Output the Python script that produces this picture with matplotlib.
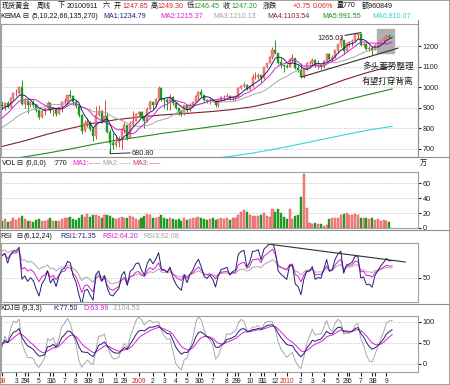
import matplotlib
matplotlib.use('Agg')
import matplotlib.pyplot as plt
from matplotlib.lines import Line2D
from matplotlib.patches import Rectangle
import numpy as np
import pandas as pd

plt.rcParams['font.family'] = ['Liberation Sans', 'Noto Sans CJK SC', 'DejaVu Sans']

# 周线数据 (2008-02 ~ 2010-09-11)
pre_close = [700, 714, 730, 743, 738, 753, 766, 785, 806, 834, 787, 822, 783, 803,
             793, 811, 836, 863, 897, 881, 913]

close = [
    909, 923, 906, 948, 972, 972, 1001, 920, 933, 913,
    925, 915, 887, 855, 885, 897, 925, 887, 900, 872,
    903, 927, 932, 960, 957, 928, 911, 864, 787, 828,
    833, 797, 762, 864, 884, 834, 861, 784, 730, 720,
    735, 745, 797, 815, 752, 823, 838, 872, 878, 855,
    838, 895, 928, 913, 941, 995, 941, 939, 930, 953,
    922, 898, 882, 871, 914, 888, 915, 930, 958, 979,
    962, 937, 932, 940, 931, 912, 937, 952, 954, 957,
    946, 952, 954, 995, 1007, 1012, 992, 1004, 1048, 1050,
    1057, 1045, 1096, 1118, 1146, 1182, 1164, 1120, 1110, 1104,
    1097, 1138, 1140, 1092, 1083, 1050, 1090, 1118, 1119, 1134,
    1102, 1107, 1105, 1126, 1161, 1137, 1142, 1180, 1209, 1228,
    1177, 1213, 1218, 1226, 1256, 1256, 1207, 1210, 1188, 1189,
    1181, 1204, 1215, 1227, 1237, 1249, 1246, 1247.20]

high = [
    933, 927, 932, 953, 975, 990, 1004, 1033, 948, 937,
    935, 942, 916, 887, 889, 898, 935, 928, 905, 894,
    906, 935, 948, 964, 988, 963, 937, 914, 868, 840,
    849, 834, 805, 911, 914, 888, 936, 880, 799, 777,
    766, 763, 802, 829, 812, 835, 884, 876, 885, 883,
    862, 903, 937, 929, 949, 1007, 1001, 947, 947, 966,
    958, 928, 900, 889, 916, 914, 922, 932, 960, 980,
    989, 963, 942, 947, 945, 932, 942, 956, 960, 972,
    962, 953, 960, 999, 1011, 1025, 1015, 1008, 1062, 1072,
    1070, 1057, 1100, 1120, 1152, 1195, 1227, 1168, 1140, 1110,
    1115, 1141, 1161, 1142, 1110, 1118, 1091, 1124, 1128, 1141,
    1137, 1130, 1110, 1131, 1164, 1167, 1156, 1180, 1210, 1249,
    1231, 1216, 1223, 1232, 1261, 1265.03, 1262, 1213, 1213, 1199,
    1200, 1212, 1222, 1230, 1241, 1255, 1258, 1249.30]

low = [
    895, 888, 899, 896, 938, 959, 966, 916, 900, 875,
    906, 906, 878, 845, 852, 866, 893, 877, 862, 862,
    870, 882, 920, 914, 947, 913, 898, 857, 775, 782,
    808, 788, 740, 747, 860, 828, 834, 776, 680.80, 700,
    708, 708, 702, 780, 742, 752, 814, 842, 862, 844,
    804, 832, 887, 894, 906, 940, 933, 900, 889, 891,
    915, 894, 865, 861, 866, 880, 885, 906, 926, 939,
    952, 928, 923, 920, 926, 905, 906, 931, 931, 951,
    938, 932, 940, 948, 992, 1001, 988, 985, 1003, 1040,
    1042, 1027, 1042, 1094, 1116, 1137, 1160, 1115, 1094, 1076,
    1091, 1096, 1122, 1088, 1073, 1045, 1045, 1085, 1096, 1108,
    1098, 1087, 1089, 1092, 1125, 1130, 1128, 1142, 1165, 1197,
    1161, 1170, 1196, 1200, 1221, 1235, 1200, 1195, 1182, 1178,
    1155, 1179, 1192, 1209, 1213, 1232, 1240, 1246.45]

last_open = 1247.85

# 成交量 (万)
vol = [
    9, 12, 8, 10, 13, 11, 14, 16, 12, 9, 10, 8, 11, 12, 10, 9, 11, 13, 10, 9,
    10, 12, 13, 14, 15, 12, 11, 14, 17, 15, 19, 15, 17, 18, 16, 14, 18, 17, 16, 14,
    12, 13, 15, 14, 13, 16, 15, 12, 11, 14, 16, 19, 17, 14, 13, 15, 18, 14, 12, 13,
    12, 11, 12, 10, 13, 11, 12, 13, 14, 15, 13, 12, 11, 12, 13, 11, 12, 14, 12, 13,
    11, 14, 13, 18, 22, 24, 21, 17, 16, 16, 16, 17, 20, 16, 15, 25, 22, 25, 20, 15,
    12, 25, 12, 16, 18, 42, 72, 27, 7, 6, 7, 6, 6, 3, 4, 12, 13, 14, 13, 18,
    19, 20, 17, 18, 19, 18, 14, 13, 14, 12, 13, 11, 12, 10, 11, 9, 8, 0.08]

# 长周期均线 (MA66 / MA135 / MA270) 读图取样
ma_idx = [0, 8, 16, 24, 32, 40, 48, 56, 64, 72, 80, 88, 96, 104, 112, 120, 128, 137]
ma4 = [712, 740, 772, 800, 825, 842, 855, 865, 872, 880, 890, 905, 930, 960, 995, 1035, 1070, 1103.54]
ma5 = [645, 662, 680, 700, 722, 742, 758, 775, 790, 805, 820, 838, 858, 880, 905, 935, 962, 991.55]
ma6 = [525, 538, 552, 566, 580, 594, 607, 620, 635, 650, 664, 680, 700, 722, 745, 768, 790, 810.07]

# 时间轴标签
tick_idx = [0, 5, 8, 9, 13, 17, 18, 22, 26, 30, 31, 35, 40, 43, 48, 53, 57, 61, 65, 69,
            70, 74, 79, 82, 83, 87, 91, 92, 96, 100, 105, 109, 113, 118, 121, 122, 126,
            130, 131, 135]
tick_txt = ['08', '3', '29', '4', '5', '31', '6', '7', '8', '30', '9', '10', '11', '29',
            '2009', '2', '3', '4', '5', '30', '6', '7', '8', '29', '9', '10', '31', '11',
            '12', '2010', '2', '3', '4', '5', '29', '6', '7', '31', '8', '9']

# ---- 指标计算 ----
close = np.array(close, float)
high = np.array(high, float)
low = np.array(low, float)
n = len(close)
x = np.arange(n)
open_ = np.r_[pre_close[-1], close[:-1]]
open_[-1] = last_open
high = np.maximum(high, np.maximum(open_, close))
low = np.minimum(low, np.minimum(open_, close))

allc = pd.Series(np.r_[pre_close, close])
npre = len(pre_close)
ma1 = allc.rolling(5, min_periods=1).mean().values[npre:]
ma2 = allc.rolling(10, min_periods=1).mean().values[npre:]
ma3 = allc.rolling(22, min_periods=1).mean().values[npre:]


def sma(s, nn, m=1):
    out = []
    prev = s[0]
    for v in s:
        prev = (m * v + (nn - m) * prev) / nn
        out.append(prev)
    return np.array(out)


diff = np.diff(allc.values)
up_move = np.maximum(diff, 0)
abs_move = np.abs(diff)


def rsi(nn):
    r = sma(up_move, nn) / sma(abs_move, nn) * 100
    return r[npre - 1:]


rsi1, rsi2, rsi3 = rsi(6), rsi(12), rsi(24)

llv = pd.Series(low).rolling(9, min_periods=1).min().values
hhv = pd.Series(high).rolling(9, min_periods=1).max().values
rsv = (close - llv) / (hhv - llv) * 100
k = [50.0]
for v in rsv:
    k.append((v + 2 * k[-1]) / 3)
k = np.array(k[1:])
d = [50.0]
for v in k:
    d.append((v + 2 * d[-1]) / 3)
d = np.array(d[1:])
j = 3 * k - 2 * d

# ---- 画布 ----
W, H = 450, 385
fig = plt.figure(figsize=(4.5, 3.85), dpi=100)


def px_axes(x0, y0, x1, y1):
    return fig.add_axes([x0 / W, 1 - y1 / H, (x1 - x0) / W, (y1 - y0) / H])


ax = px_axes(1, 24, 418, 157)
axv = px_axes(1, 172, 418, 228)
axr = px_axes(1, 243, 418, 302)
axk = px_axes(1, 316, 418, 372)

grid_kw = dict(color='#a8a8a8', lw=0.6, linestyle=(0, (1, 2)))
for a in (ax, axv, axr, axk):
    a.set_xlim(-0.35, 146.1)
    for sp in a.spines.values():
        sp.set_color('#a0a0a0')
        sp.set_linewidth(0.8)
    a.tick_params(axis='y', left=False, labelleft=False, right=True, labelright=True,
                  length=2, pad=1.2, labelsize=5.2, colors='#202020')
    a.tick_params(axis='x', bottom=False, labelbottom=False)
    a.grid(axis='y', **grid_kw)
    a.set_axisbelow(True)

up = close >= open_
body_col = np.where(up, '#f08a8a', '#1f9a1f')
edge_col = np.where(up, '#e04848', '#1f9a1f')

# 主图
ax.add_patch(Rectangle((131.7, 1166), 5.9, 116, color='#b0b0b0', zorder=0.5))
ax.vlines(x, low, high, colors=edge_col, lw=0.7, zorder=2)
body_lo = np.minimum(open_, close)
body_h = np.maximum(np.abs(close - open_), 1.0)
ax.bar(x, body_h, bottom=body_lo, width=0.72, color=body_col, edgecolor=edge_col,
       lw=0.3, zorder=3)
ax.plot(ma_idx, ma6, color='#30d8d8', lw=0.8, zorder=1)
ax.plot(ma_idx, ma5, color='#208a20', lw=0.8, zorder=1)
ax.plot(ma_idx, ma4, color='#80202c', lw=0.8, zorder=1)
ax.plot(x, ma3, color='#a8a8a8', lw=0.7, zorder=4)
ax.plot(x, ma2, color='#d820d8', lw=0.7, zorder=4)
ax.plot(x, ma1, color='#202070', lw=0.7, zorder=4)
ax.set_ylim(661, 1307)
ax.set_yticks([700, 800, 900, 1000, 1100, 1200])

# 标注
ax.plot([105.3, 139.1], [1050, 1190], color='#303030', lw=0.8, zorder=5)
ax.plot([120.5, 126.0], [1252, 1265], color='#303030', lw=0.8, zorder=5)
ax.text(110.7, 1237, '1265.03', fontsize=5.2, color='#202020', va='center', zorder=6)
ax.plot([38, 38, 45.0], [690, 677, 681], color='#303030', lw=0.7, zorder=5)
ax.text(45.7, 680, '680.80', fontsize=5.2, color='#202020', va='center', zorder=6)
ax.text(126.5, 1103, '多头蓄势整理', fontsize=6.2, color='#202020', va='center', zorder=6)
ax.text(126.5, 1030, '有望打穿背离', fontsize=6.2, color='#202020', va='center', zorder=6)

# 成交量
axv.bar(x, vol, width=0.72, color=body_col, edgecolor=edge_col, lw=0.3)
axv.set_ylim(0, 75)
axv.set_yticks([0, 20, 40, 60])

# RSI
axr.plot(x, rsi3, color='#a8a8a8', lw=0.7)
axr.plot(x, rsi2, color='#d820d8', lw=0.7)
axr.plot(x, rsi1, color='#202070', lw=0.7)
axr.plot([93.4, 141.6], [88.8, 68.1], color='#303030', lw=0.8)
axr.set_ylim(22, 90)
axr.set_yticks([50])

# KDJ
axk.plot(x, j, color='#a8a8a8', lw=0.7)
axk.plot(x, d, color='#d820d8', lw=0.7)
axk.plot(x, k, color='#202070', lw=0.7)
axk.set_ylim(-19, 114)
axk.set_yticks([0, 50, 100])
axk.set_xticks(tick_idx)
axk.set_xticklabels(tick_txt)
axk.tick_params(axis='x', bottom=True, labelbottom=True, length=3, pad=1,
                labelsize=4.8, colors='#202020')
for lab in axk.get_xticklabels():
    if lab.get_text() in ('08', '2009', '2010'):
        lab.set_color('#e02020')


# ---- 标题文字 ----
def put(xp, yp, s, color='#101010', size=5.1):
    fig.text(xp / W, 1 - yp / H, s, color=color, fontsize=size, va='center', ha='left')


RED, GRN = '#e02020', '#1f9a1f'
put(2, 6, '现货黄金')
put(37, 6, '周线')
put(58, 6, '下')
put(67, 6, '20100911')
put(103, 6, '六')
put(114, 6, '开')
put(122, 6, '1247.85', RED)
put(151, 6, '高')
put(158, 6, '1249.30', RED)
put(187, 6, '低')
put(194, 6, '1246.45', GRN)
put(223, 6, '收')
put(231, 6, '1247.20', GRN)
put(263, 6, '涨跌')
put(293, 6, '+0.75', RED)
put(313, 6, '0.06%', RED)
put(337, 6, '量770')
put(362, 6, '额960849')

put(0, 17, 'K')
put(4, 17, '⊟MA')
put(22, 17, '⊟')
put(31, 17, '(5,10,22,66,135,270)')
put(103, 17, 'MA1:1234.79', '#202070')
put(160, 17, 'MA2:1215.37', '#d820d8')
put(213, 17, 'MA3:1210.13', '#a0a0a0')
put(267, 17, 'MA4:1103.54', '#80202c')
put(322, 17, 'MA5:991.55', '#208a20')
put(372, 17, 'MA6:810.07', '#30d0d0')

put(2, 164, 'VOL')
put(16, 164, '⊟')
put(25, 164, '(0,0,0)')
put(53, 164, ':770')
put(72, 164, 'MA1:-----', '#d820d8')
put(102, 164, 'MA2:-----', '#a0a0a0')
put(132, 164, 'MA3:-----', '#c04060')
put(420, 163, '万')

put(0, 236, 'RSI')
put(16, 236, '⊟')
put(24, 236, '(6,12,24)')
put(60, 236, 'RSI1:71.35', '#202070')
put(102, 236, 'RSI2:64.20', '#d820d8')
put(143, 236, 'RSI3:62.08', '#a0a0a0')

put(0, 308, 'KDJ')
put(13, 308, '⊟')
put(22, 308, '(9,3,3)')
put(53, 308, 'K:77.50', '#202070')
put(83, 308, 'D:63.99', '#d820d8')
put(113, 308, 'J:104.53', '#a0a0a0')

# 分隔线和外框
for yp in (157, 230, 304):
    fig.add_artist(Line2D([0, 1], [1 - yp / H] * 2, color='#909090', lw=0.8))
fig.add_artist(Line2D([418 / W] * 2, [1 - 157 / H, 1 - 20 / H], color='#909090', lw=0.8))
fig.add_artist(Rectangle((0, 0), 1, 1, fill=False, ec='#909090', lw=1.2,
                         transform=fig.transFigure))

fig.savefig('out.png', dpi=100)
